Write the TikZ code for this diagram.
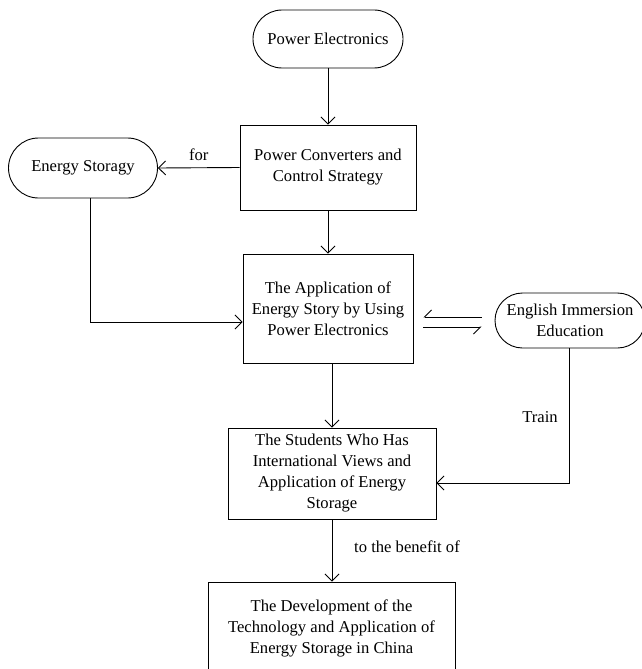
\documentclass[tikz,border=0pt]{standalone}
\usepackage{fontspec}
\setmainfont{Liberation Serif}
\usetikzlibrary{arrows.meta}
\begin{document}
\begin{tikzpicture}[x=1pt,y=-1pt,
  every node/.style={font=\fontsize{16.6}{21}\selectfont},
  box/.style={draw,line width=0.9pt,align=center,inner sep=0pt},
  stad/.style={draw,line width=0.9pt,align=center,inner sep=0pt},
  conn/.style={line width=0.9pt,-{Straight Barb[length=7pt,width=14pt]}},
  harp/.style={line width=0.9pt,-{Straight Barb[harpoon,right,length=7pt,width=14pt]}},
  lbl/.style={inner sep=0pt}]
\useasboundingbox (0,0) rectangle (641,669);
\node[stad,minimum width=150pt,minimum height=58pt,rounded corners=29pt] (pe) at (328,39) {Power Electronics};
\node[box,minimum width=176pt,minimum height=85pt] (pc) at (328,167.5) {Power Converters and\\Control Strategy};
\node[stad,minimum width=149pt,minimum height=60pt,rounded corners=30pt] (es) at (83,168) {Energy Storagy};
\node[box,minimum width=170pt,minimum height=109pt] (app) at (328,308.5) {The Application of\\Energy Story by Using\\Power Electronics};
\node[stad,minimum width=150pt,minimum height=55pt,rounded corners=27.5pt] (eng) at (570,320.5) {English Immersion\\Education};
\node[box,minimum width=208pt,minimum height=91pt] (stu) at (332,473.5) {The Students Who Has\\International Views and\\Application of Energy\\Storage};
\node[box,minimum width=247pt,minimum height=92pt] (dev) at (331.5,628) {The Development of the\\Technology and Application of\\Energy Storage in China};
\draw[conn] (pe.south) -- (pc.north);
\draw[conn] (pc.west) -- node[lbl,above=7pt] (for) {for} (es.east);
\draw[conn] ([xshift=7pt]es.south) |- ([yshift=-13.5pt]app.west);
\draw[conn] (pc.south) -- (app.north);
\coordinate (h1) at ([xshift=10pt,yshift=-8.5pt]app.east);
\coordinate (h2) at ([xshift=-13pt,yshift=3.5pt]eng.west);
\coordinate (h3) at ([xshift=10pt,yshift=-18.5pt]app.east);
\coordinate (h4) at ([xshift=-13pt,yshift=-6.5pt]eng.west);
\draw[harp] (h2) -- (h1);
\draw[harp] (h3) -- (h4);
\draw[conn] (app.south -| stu.north) -- (stu.north);
\draw[conn] ([xshift=-1pt]eng.south) |- ([yshift=-9.5pt]stu.east);
\node[lbl] (train) at (540,417) {Train};
\draw[conn] (stu.south) -- (stu.south |- dev.north);
\node[lbl] (ben) at (407,547) {to the benefit of};
\end{tikzpicture}
\end{document}
